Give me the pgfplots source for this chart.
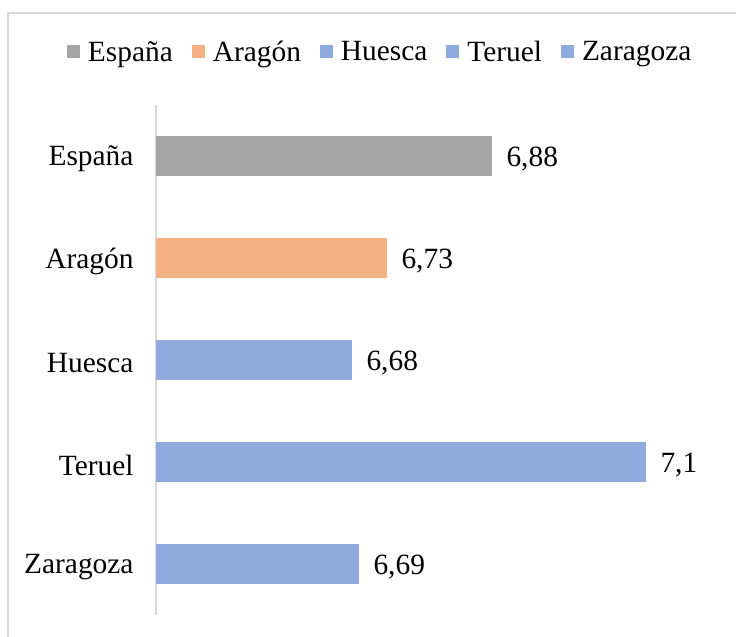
\documentclass[border=0pt]{standalone}
\usepackage{pgfplots}
\pgfplotsset{compat=1.18}
\usepackage{fontspec}
\setmainfont{Liberation Serif}
\definecolor{cEsp}{HTML}{A5A5A5}
\definecolor{cAra}{HTML}{F4B183}
\definecolor{cBlu}{HTML}{8FAADC}
\definecolor{frameC}{HTML}{D9D9D9}
\begin{document}
\begin{tikzpicture}
\useasboundingbox (0bp,0bp) rectangle (736bp,637bp);
\draw[frameC, line width=1.6bp] (8bp,-20bp) -- (8bp,624bp) -- (760bp,624bp);
\begin{axis}[
  at={(156bp,22bp)}, anchor=south west,
  scale only axis, width=560bp, height=510bp,
  xbar, bar shift=0pt, bar width=40bp,
  xmin=6.4, xmax=7.2,
  ymin=-0.5, ymax=4.5, y dir=reverse,
  ytick={0,1,2,3,4},
  yticklabels={España,Aragón,Huesca,Teruel,Zaragoza},
  hide x axis,
  axis y line*=left,
  y axis line style={draw=frameC, line width=1.2bp, -},
  major tick length=0pt,
  tick label style={font=\fontsize{29.5}{34}\selectfont, text=black},
  yticklabel style={xshift=-19bp, yshift=-3bp},
  nodes near coords,
  nodes near coords style={font=\fontsize{29.5}{34}\selectfont, text=black, anchor=west, xshift=11bp, yshift=-3bp,
    /pgf/number format/.cd, use comma, fixed, precision=2, assume math mode=true},
  point meta=explicit,
  legend columns=5,
  legend style={at={(-0.159,1.104)}, anchor=west, draw=none, fill=none,
    inner sep=0pt, outer sep=0pt, font=\fontsize{29.5}{34}\selectfont,
    /tikz/every even column/.append style={column sep=17bp}},
  legend image code/.code={\fill[#1] (0bp,-6.5bp) rectangle (13bp,6.5bp); \path (19bp,0bp);},
]
\addplot[fill=cEsp, draw=none] coordinates {(6.88,0) [6.88]};
\addplot[fill=cAra, draw=none] coordinates {(6.73,1) [6.73]};
\addplot[fill=cBlu, draw=none] coordinates {(6.68,2) [6.68]};
\addplot[fill=cBlu, draw=none] coordinates {(7.1,3) [7.1]};
\addplot[fill=cBlu, draw=none] coordinates {(6.69,4) [6.69]};
\legend{España,Aragón,Huesca,Teruel,Zaragoza}
\end{axis}
\end{tikzpicture}
\end{document}
